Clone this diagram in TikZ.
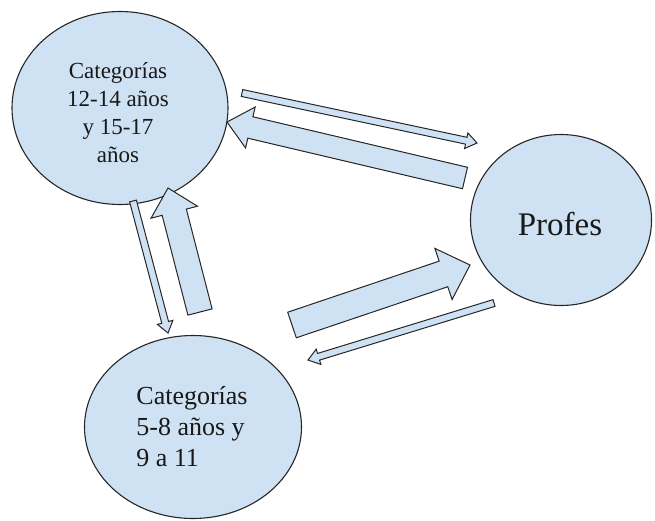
\documentclass[tikz,border=0pt]{standalone}
\usepackage{fontspec}
\setmainfont{Liberation Serif}
\usetikzlibrary{calc,shapes.geometric}
\definecolor{lblue}{HTML}{CFE2F3}
\newcommand{\barrow}[5]{% #1 tail, #2 tip, #3 half shaft, #4 half head, #5 head length
  \coordinate (hb) at ($(#2)!#5!(#1)$);
  \draw[arrowbox] ($(#1)!#3!90:(#2)$) -- ($(hb)!#3!90:(#2)$) -- ($(hb)!#4!90:(#2)$) -- (#2)
    -- ($(hb)!#4!-90:(#2)$) -- ($(hb)!#3!-90:(#2)$) -- ($(#1)!#3!-90:(#2)$) -- cycle;
}
\begin{document}
\begin{tikzpicture}[x=1pt,y=-1pt,
  ell/.style={draw=black!85, line width=1.1pt, fill=lblue, ellipse, inner sep=0pt},
  txt/.style={inner sep=0pt, text=black!90},
  arrowbox/.style={draw=black!85, line width=1pt, fill=lblue, line join=miter}]
\useasboundingbox (0,0) rectangle (655,520);
\node[ell, minimum width=216pt, minimum height=193pt] (top) at (120,108) {};
\node[txt, align=center, font=\fontsize{23}{28}\selectfont] (toptext) at (118,113)
  {Categorías\\12-14 años\\y 15-17\\años};
\node[ell, minimum width=181pt, minimum height=171pt] (profes) at (561,220) {};
\node[txt, font=\fontsize{33}{38}\selectfont] (profestext) at (560,224) {Profes};
\node[ell, minimum width=217pt, minimum height=183pt] (bot) at (193,427) {};
\node[txt, align=left, font=\fontsize{26}{31}\selectfont] (bottext) at (192,427)
  {Categorías\\5-8 años y\\9 a 11};
% arrows
\coordinate (aT) at (242,93);  \coordinate (aH) at (477,143);
\coordinate (bT) at (465,178); \coordinate (bH) at (227,122);
\coordinate (cT) at (133,201); \coordinate (cH) at (168,333);
\coordinate (dT) at (200,312); \coordinate (dH) at (168,188);
\coordinate (eT) at (292,325); \coordinate (eH) at (470,265);
\coordinate (fT) at (494,303); \coordinate (fH) at (308,360);
\barrow{aT}{aH}{3.5pt}{8pt}{11pt}
\barrow{bT}{bH}{11pt}{21pt}{24pt}
\barrow{cT}{cH}{3.5pt}{8pt}{11pt}
\barrow{dT}{dH}{12.5pt}{24pt}{25pt}
\barrow{eT}{eH}{13.5pt}{27pt}{28pt}
\barrow{fT}{fH}{3.5pt}{8pt}{11pt}
\end{tikzpicture}
\end{document}
